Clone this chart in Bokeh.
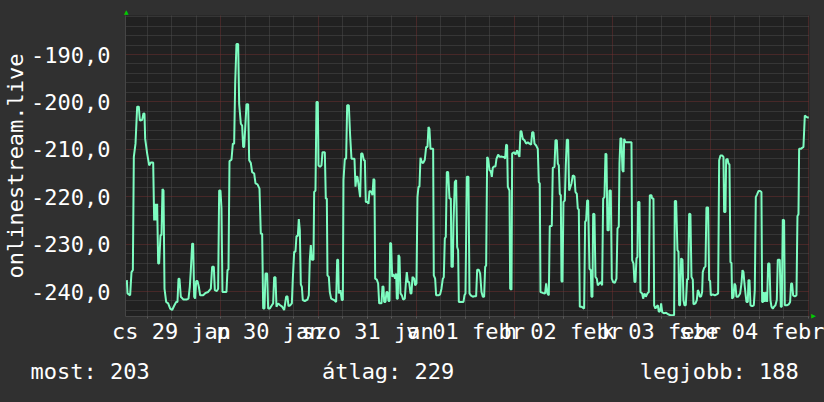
import numpy as np
from bokeh.plotting import figure
from bokeh.models import FixedTicker, ColumnDataSource, Range1d, Title
from bokeh.embed import file_html
from bokeh.resources import INLINE

# ---- data: hours since Thu 29 Jan 00:00, values of the series ----
seg1_h = [1.06,1.22,1.87,2.20,2.53,2.77,3.18,3.59,3.99,4.24,4.81,5.14,5.38,5.55,6.04,6.53,6.93,7.51,7.75,8.08,8.24,8.48,8.73,8.97,9.30,9.55,9.79,10.04,10.28,10.69,11.18,11.67,12.16,12.65,13.14,13.46,13.71,13.95,14.28,14.93,15.67,16.16,16.48,16.73,17.06,17.30,17.55,17.79,18.04,18.36,18.69,19.02,19.75,20.32,20.97,21.63,21.95,22.36,22.61,23.10,23.42,23.67,23.99,24.24,24.48,25.06,25.46,25.71,25.95,26.20,26.69,27.02,27.34,27.59,27.91,28.32]
seg1_v = [-237.6,-240.4,-240.8,-235.9,-235.5,-211.6,-208.8,-201.0,-201.0,-203.9,-203.8,-202.4,-202.5,-207.8,-210.9,-213.4,-212.8,-212.8,-225.0,-221.5,-225.0,-221.5,-234.1,-234.1,-228.1,-228.1,-218.4,-218.7,-239.4,-242.2,-242.5,-243.6,-243.9,-243.0,-242.2,-242.2,-237.3,-237.3,-241.1,-241.7,-241.7,-241.5,-239.0,-235.5,-229.9,-229.9,-241.1,-241.5,-237.8,-237.8,-239.0,-240.8,-240.8,-240.3,-240.1,-239.4,-234.8,-234.8,-239.7,-239.9,-239.4,-218.7,-218.7,-222.5,-240.1,-240.1,-240.1,-235.4,-235.4,-212.5,-212.2,-208.8,-208.8,-196.2,-187.8,-187.8]

seg2_h = [28.57,28.98,29.30,29.55,29.79,30.04,30.36,30.77,31.02,31.43,31.75,32.24,32.57,33.06,33.55,33.87,34.20,34.45,34.77,35.02,35.43,35.67,36.08,36.57,36.89,37.14,37.47,37.71,38.12,38.61,39.10,39.59,40.08,40.40,40.65,41.06,41.47,41.71,42.04,42.36,42.61,42.94,43.18,43.43,43.67,43.92,44.16,44.65,45.30,45.63,45.87,46.12,46.36,46.77,46.94,47.26,47.51,47.83,48.00,48.40,48.73,48.98,49.55,49.79,50.04,50.20,50.53,50.77,51.10,51.83,52.32,52.57,52.81,52.98,53.38,53.71,53.96,54.12,54.45,54.77,55.02,55.43,55.75,56.08,56.73]
seg2_v = [-200.4,-204.6,-205.0,-209.5,-209.5,-205.7,-200.5,-200.5,-212.3,-212.9,-214.8,-215.1,-217.2,-217.4,-218.3,-227.8,-227.8,-243.6,-243.6,-236.2,-236.2,-243.6,-243.6,-242.9,-242.5,-237.0,-237.0,-243.2,-242.5,-242.9,-243.2,-243.9,-241.1,-241.0,-243.1,-242.9,-242.5,-237.3,-231.6,-231.6,-228.3,-228.3,-224.7,-227.1,-238.5,-239.0,-241.8,-242.0,-241.7,-240.8,-233.3,-230.2,-233.3,-233.3,-219.0,-218.7,-200.0,-200.0,-213.4,-213.7,-213.4,-210.6,-210.6,-220.4,-220.4,-236.6,-236.9,-240.1,-241.5,-241.8,-242.2,-233.3,-233.3,-240.4,-239.7,-241.8,-241.8,-216.5,-212.0,-212.0,-200.7,-200.7,-207.1,-212.0,-212.0]

seg3_h = [56.81,57.06,57.30,57.55,57.88,58.20,58.45,58.77,59.10,59.35,59.59,60.00,60.24,60.49,60.98,61.22,61.47,61.71,61.88,62.28,62.61,62.86,63.43,63.67,63.92,64.08,64.41,64.65,64.90,65.14,65.39,65.55,65.79,66.04,66.37,66.77,67.02,67.18,67.43,67.59,67.84,68.08,68.41,68.73,69.14,69.39,69.63,69.88,70.20,70.53,70.77,71.02,71.43,71.67,72.00,72.24,72.49,72.73,72.98,73.30,73.63,74.04,74.37,74.69,74.94,75.18,75.43,76.08,76.24,76.57,76.81,77.39,77.79,78.12,78.45,78.69,78.94,79.18,79.43,79.75,80.08,80.41,80.57,80.90,81.06,81.39,81.71,81.96,82.20,82.37,83.51,83.75,84.00,84.33,84.73,84.98,85.30,85.79]
seg3_v = [-212.0,-217.9,-215.8,-215.8,-217.9,-220.1,-210.9,-210.9,-212.3,-212.3,-221.1,-221.1,-221.5,-218.8,-219.0,-219.7,-216.2,-216.5,-237.3,-237.5,-238.3,-242.5,-242.5,-238.9,-239.0,-242.2,-242.2,-240.1,-240.1,-242.0,-242.0,-229.7,-229.9,-236.9,-236.3,-237.3,-236.2,-241.5,-241.5,-232.3,-232.7,-240.4,-240.8,-241.7,-241.5,-238.3,-235.9,-238.0,-238.0,-240.4,-240.4,-236.9,-237.3,-238.7,-238.3,-220.1,-217.9,-217.9,-211.8,-212.7,-212.9,-212.2,-209.5,-209.5,-205.3,-205.7,-209.9,-209.9,-236.6,-237.3,-240.8,-240.8,-240.6,-239.4,-237.3,-237.0,-228.8,-228.5,-214.8,-214.8,-220.4,-220.4,-234.8,-234.8,-225.7,-216.9,-216.5,-230.6,-231.3,-242.2,-242.2,-240.8,-240.4,-215.8,-215.8,-240.4,-240.8,-241.1]

seg4_h = [86.12,86.61,86.86,87.27,87.59,87.92,88.25,88.57,88.82,89.06,89.31,89.55,89.88,90.20,90.45,90.69,91.02,91.35,91.59,92.00,92.33,92.74,93.14,93.47,93.71,93.96,94.20,94.37,94.78,94.94,95.27,95.43,95.84,96.25,96.65,96.90,97.22,97.47,97.71,98.04,98.45,98.86,99.27,99.67,100.08,100.33,100.65,100.90,101.31,101.71,101.96,102.20,102.37,102.94,103.51,103.76,104.08,104.41,104.65,105.14,105.39,105.80,106.04,106.37,106.61,106.86,107.10,107.35,107.51,107.76,108.00,108.33,108.57,108.82,109.14,109.39,109.71,109.96,110.29,110.69,110.94,111.27,111.51,111.76,112.00,112.41,112.74,113.06,113.31,113.55,113.80,114.04]
seg4_v = [-241.0,-241.0,-235.4,-235.4,-236.2,-240.1,-241.1,-241.1,-234.8,-234.5,-211.6,-212.0,-214.4,-214.6,-215.8,-213.9,-213.6,-213.6,-212.0,-211.1,-211.6,-211.5,-211.6,-211.6,-212.0,-209.0,-209.2,-217.9,-218.7,-239.4,-239.6,-210.9,-210.6,-211.1,-210.2,-210.9,-211.6,-206.2,-206.2,-207.8,-208.1,-208.8,-208.5,-208.8,-209.0,-206.4,-206.4,-208.8,-209.2,-209.9,-216.9,-217.2,-240.1,-240.3,-240.4,-238.3,-240.4,-240.8,-226.2,-226.2,-213.9,-213.7,-208.1,-208.1,-213.0,-213.4,-219.4,-219.7,-237.8,-238.0,-221.1,-220.8,-213.4,-208.0,-208.0,-218.7,-217.9,-217.2,-215.5,-215.7,-219.0,-219.4,-222.5,-222.7,-243.2,-243.2,-243.4,-243.6,-225.3,-225.0,-220.8,-220.8]

seg5_h = [114.37,114.70,114.86,115.10,115.27,115.59,115.84,116.17,116.41,116.82,117.15,117.47,117.72,118.04,118.29,118.53,118.78,119.10,119.27,119.59,119.84,120.17,120.57,120.98,121.23,121.55,121.72,121.96,122.21,122.45,122.70,122.86,123.19,124.66,124.82,125.15,125.39,125.63,125.88,126.12,126.29,126.61,126.86,127.27,127.51,127.84,128.17,128.57,128.90,129.15,129.55,129.72,130.04,130.21,130.53,130.78,131.10,131.35,131.68,131.92,132.17,132.57,133.15,133.63,134.21,135.10,135.27,135.59,135.92,136.17,136.33,136.57,136.82,137.15,137.39,137.63,137.96,138.29,138.53,138.78,139.10,139.35,139.68,139.84,140.33,140.66,140.90,141.15,141.39,141.72,141.96,142.12,142.45]
seg5_v = [-235.2,-235.5,-241.1,-241.1,-223.6,-223.7,-236.9,-237.3,-238.7,-238.3,-238.0,-238.7,-220.4,-220.1,-210.9,-211.1,-227.1,-227.1,-218.7,-218.7,-237.3,-238.0,-238.2,-237.3,-226.7,-226.3,-213.0,-207.6,-207.8,-214.4,-214.8,-207.8,-208.5,-208.5,-233.4,-234.1,-238.0,-238.0,-233.0,-232.7,-221.1,-221.1,-240.1,-240.4,-241.5,-240.4,-241.1,-240.4,-240.1,-219.7,-219.7,-220.4,-220.4,-242.9,-243.6,-243.2,-242.9,-244.3,-244.1,-242.5,-244.3,-244.6,-244.5,-244.8,-245.0,-245.0,-220.9,-220.9,-231.3,-231.6,-242.9,-242.9,-233.0,-233.3,-241.8,-242.9,-242.9,-237.3,-237.5,-223.6,-223.7,-236.9,-237.5,-242.7,-242.5,-241.8,-239.7,-240.1,-241.1,-241.0,-240.1,-235.9,-235.0]

seg6_h = [142.78,143.02,143.43,143.68,143.92,144.09,144.58,145.07,145.56,145.88,146.13,146.45,146.86,147.19,147.35,147.68,147.84,148.17,148.41,148.66,148.90,149.15,149.31,149.64,149.88,150.13,150.37,150.78,151.27,151.60,151.84,152.09,152.33,152.58,152.82,153.15,153.31,153.56,153.80,154.21,154.62,154.86,155.11,155.43,155.76,156.17,156.49,156.66,156.90,157.07,157.31,157.64,157.88,158.13,158.45,158.70,158.94,159.27,159.60,159.92,160.25,160.49,160.98,161.23,161.47,161.72,162.04,162.21,162.70,163.19,163.51,163.76,164.00,164.25,164.66,165.07,165.31,165.56,165.72,166.13,166.45,166.78,167.11,167.43,167.76,168.09]
seg6_v = [-234.7,-222.3,-222.3,-237.6,-237.8,-240.8,-240.6,-240.8,-240.6,-240.4,-212.3,-211.3,-211.3,-211.6,-223.2,-223.2,-212.2,-212.0,-213.0,-213.2,-233.8,-234.0,-241.5,-241.1,-238.3,-238.7,-241.1,-241.1,-240.4,-238.3,-235.5,-235.9,-238.3,-240.4,-242.2,-242.2,-237.6,-237.6,-242.9,-243.1,-242.9,-239.7,-220.1,-219.5,-218.8,-218.8,-219.0,-242.2,-242.2,-240.1,-242.2,-240.1,-242.2,-234.1,-234.1,-241.8,-243.2,-243.6,-243.2,-242.9,-241.8,-233.3,-233.3,-243.2,-243.2,-224.8,-225.0,-242.9,-242.9,-242.7,-242.2,-238.3,-238.3,-240.8,-241.0,-240.8,-224.1,-223.7,-209.9,-209.9,-209.7,-209.5,-202.9,-203.1,-203.3,-203.3]

day_label_hours = [12, 36, 60, 84, 108, 132, 156]
day_labels = ["cs 29 jan", "p 30 jan", "szo 31 jan", "v 01 febr", "h 02 febr", "k 03 febr", "sze 04 febr"]
y_major = [-240, -230, -220, -210, -200, -190]
y_major_labels = ["-240,0", "-230,0", "-220,0", "-210,0", "-200,0", "-190,0"]
stat_texts = ["most: 203", "átlag: 229", "legjobb: 188"]
y_title = "onlinestream.live"

# ---- ranges & layout ----
X0, X1 = 0.73, 168.26
Y0, Y1 = -245.27, -181.77
W, H = 824, 402
BL, BR, BT, BB = 124, 15, 15, 86

FONT = "DejaVu Sans Mono"
FS = "22px"
TXT = "#ffffff"
OUTER = "#303030"

hours, vals = [], []
for hh, vv in [(seg1_h, seg1_v), (seg2_h, seg2_v), (seg3_h, seg3_v),
               (seg4_h, seg4_v), (seg5_h, seg5_v), (seg6_h, seg6_v)]:
    n = min(len(hh), len(vv))
    hours += hh[:n]
    vals += vv[:n]

p = figure(width=W, height=H, output_backend="svg", toolbar_location=None,
           x_range=Range1d(X0, X1), y_range=Range1d(Y0, Y1), title=None,
           min_border_left=BL, min_border_right=BR, min_border_top=BT, min_border_bottom=BB,
           background_fill_color="#212121", border_fill_color=OUTER, outline_line_color=None)

src = ColumnDataSource(dict(h=hours, v=vals))
p.line("h", "v", source=src, line_color="#7dfcc0", line_width=2)

# grids
midnights = [24 * d for d in range(1, 8)]
six_h = [6 * k for k in range(0, 29) if (6 * k) % 24 != 0]
p.xgrid.ticker = FixedTicker(ticks=midnights, minor_ticks=six_h)
p.xgrid.grid_line_color = "#6e3030"
p.xgrid.grid_line_dash = "1 1"
p.xgrid.minor_grid_line_color = "#4c4c4c"
p.xgrid.minor_grid_line_dash = "1 1"

y_minor = [v for v in range(-244, -180, 2) if v % 10 != 0]
p.yaxis.ticker = FixedTicker(ticks=y_major, minor_ticks=y_minor)
p.ygrid.grid_line_color = "#6e3030"
p.ygrid.grid_line_dash = "1 1"
p.ygrid.minor_grid_line_color = "#4c4c4c"
p.ygrid.minor_grid_line_dash = "1 1"

# x axis (day labels)
p.xaxis.ticker = FixedTicker(ticks=day_label_hours, minor_ticks=[6 * k for k in range(0, 29)])
p.xaxis.major_label_overrides = {h: t for h, t in zip(day_label_hours, day_labels)}
p.xaxis.major_label_text_font = FONT
p.xaxis.major_label_text_font_size = FS
p.xaxis.major_label_text_color = TXT
p.xaxis.major_label_standoff = 0
p.xaxis.major_tick_out = 2
p.xaxis.major_tick_in = 0
p.xaxis.minor_tick_out = 2
p.xaxis.minor_tick_in = 0
p.xaxis.major_tick_line_color = "#5a5a5a"
p.xaxis.minor_tick_line_color = "#5a5a5a"
p.xaxis.axis_line_color = "#454545"

# y axis
p.yaxis.major_label_overrides = {v: t for v, t in zip(y_major, y_major_labels)}
p.yaxis.major_label_text_font = FONT
p.yaxis.major_label_text_font_size = FS
p.yaxis.major_label_text_color = TXT
p.yaxis.major_label_standoff = 15
p.yaxis.major_tick_out = 0
p.yaxis.major_tick_in = 0
p.yaxis.minor_tick_out = 0
p.yaxis.minor_tick_in = 0
p.yaxis.axis_line_color = "#454545"
p.yaxis.axis_label = y_title
p.yaxis.axis_label_text_font = FONT
p.yaxis.axis_label_text_font_size = FS
p.yaxis.axis_label_text_font_style = "normal"
p.yaxis.axis_label_text_color = TXT
p.yaxis.axis_label_standoff = 0

# statistics line below the day labels (monospace, padded with no-break spaces)
NB = "\u00a0"
stats_line = stat_texts[0] + NB * 13 + stat_texts[1] + NB * 14 + stat_texts[2]
p.add_layout(Title(text=stats_line, align="left", offset=-95, vertical_align="bottom", standoff=20,
                   text_font=FONT, text_font_size=FS, text_font_style="normal",
                   text_color=TXT), "below")

# axis arrows (small green triangles outside the frame)
p.add_layout(Title(text="▲", align="left", offset=-1.5, vertical_align="bottom", standoff=2,
                   text_font="DejaVu Sans", text_font_size="6px", text_font_style="normal",
                   text_color="#00cc00"), "above")
p.add_layout(Title(text="▲", align="right", offset=-2, vertical_align="bottom", standoff=3,
                   text_font="DejaVu Sans", text_font_size="6px", text_font_style="normal",
                   text_color="#00cc00"), "right")

html = file_html(p, INLINE).replace("<body>", '<body style="background-color:#303030;">')
open("out.html", "w").write(html)
